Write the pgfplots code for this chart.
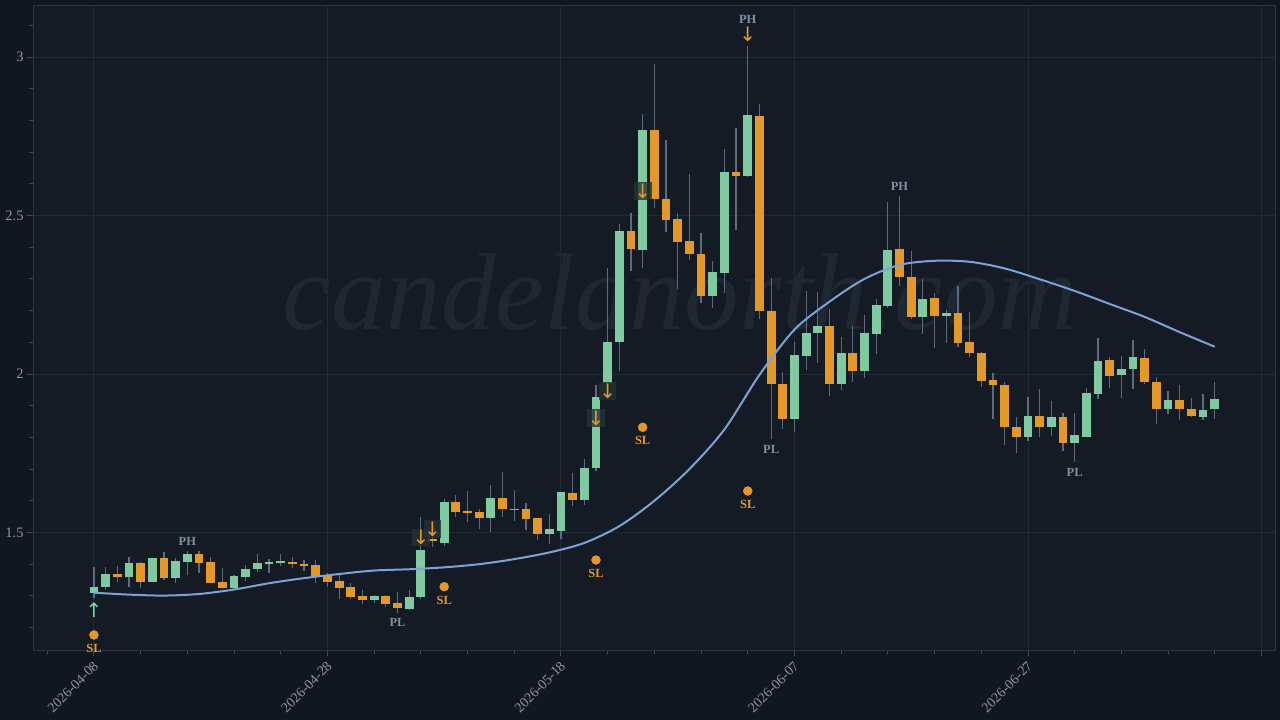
\documentclass[border=0pt]{standalone}
\usepackage{fontspec}
\setmainfont{Liberation Serif}
\newfontfamily\symfont{DejaVu Sans}
\usepackage{pgfplots}
\pgfplotsset{compat=1.18}
\usepackage{pgfplotstable}

\definecolor{bgout}{RGB}{17,23,31}
\definecolor{plotbg}{RGB}{20,27,37}
\definecolor{gridc}{RGB}{31,42,53}
\definecolor{framec}{RGB}{43,55,70}
\definecolor{tickc}{RGB}{62,75,90}
\definecolor{labelc}{RGB}{138,152,168}
\definecolor{greenc}{RGB}{128,202,162}
\definecolor{orangec}{RGB}{228,152,40}
\definecolor{wickc}{RGB}{92,108,124}
\definecolor{mac}{RGB}{125,162,212}
\definecolor{phc}{RGB}{128,143,162}
\definecolor{wm}{RGB}{30,39,50}
\definecolor{arrowbox}{RGB}{34,50,52}
\definecolor{uparrow}{RGB}{130,215,165}

\pgfplotstableread{
x O H L C
0 1.308 1.390 1.293 1.329
1 1.329 1.390 1.319 1.368
3 1.360 1.424 1.329 1.403
5 1.345 1.421 1.343 1.419
7 1.358 1.420 1.342 1.410
8 1.408 1.443 1.366 1.432
12 1.326 1.366 1.322 1.363
13 1.361 1.397 1.348 1.385
14 1.384 1.432 1.376 1.403
15 1.400 1.415 1.371 1.407
16 1.404 1.432 1.394 1.409
24 1.286 1.302 1.276 1.300
27 1.259 1.319 1.256 1.296
28 1.295 1.549 1.289 1.445
30 1.468 1.605 1.456 1.597
34 1.547 1.650 1.503 1.608
39 1.495 1.558 1.463 1.510
40 1.506 1.627 1.479 1.627
42 1.603 1.731 1.587 1.703
43 1.703 1.965 1.695 1.926
44 1.973 2.335 1.960 2.102
45 2.100 2.473 2.010 2.451
47 2.391 2.820 2.333 2.770
53 2.247 2.357 2.209 2.322
54 2.320 2.710 2.257 2.637
56 2.626 3.036 2.620 2.817
60 1.858 2.100 1.816 2.060
61 2.057 2.263 2.013 2.130
62 2.128 2.260 2.034 2.151
64 1.968 2.118 1.950 2.065
66 2.009 2.186 1.988 2.128
67 2.126 2.236 2.062 2.218
68 2.215 2.544 2.207 2.391
71 2.180 2.300 2.126 2.236
73 2.183 2.202 2.097 2.192
80 1.802 1.926 1.790 1.867
82 1.832 1.916 1.804 1.865
84 1.782 1.876 1.721 1.807
85 1.802 1.955 1.800 1.940
86 1.937 2.115 1.921 2.041
88 1.997 2.057 1.923 2.016
89 2.015 2.107 1.953 2.052
92 1.890 1.946 1.874 1.918
95 1.865 1.937 1.855 1.886
96 1.889 1.976 1.857 1.921
}\upcandles

\pgfplotstableread{
x O H L C
2 1.368 1.394 1.343 1.361
4 1.403 1.407 1.324 1.345
6 1.419 1.437 1.350 1.358
9 1.432 1.442 1.371 1.405
10 1.407 1.422 1.340 1.342
11 1.343 1.389 1.322 1.324
17 1.408 1.422 1.387 1.400
18 1.402 1.413 1.379 1.393
19 1.396 1.413 1.340 1.364
20 1.364 1.371 1.329 1.345
21 1.348 1.371 1.290 1.326
22 1.327 1.340 1.290 1.296
23 1.299 1.319 1.274 1.287
25 1.300 1.302 1.266 1.274
26 1.277 1.312 1.245 1.261
29 1.478 1.500 1.454 1.472
31 1.597 1.618 1.550 1.566
32 1.568 1.631 1.534 1.563
33 1.565 1.573 1.511 1.547
35 1.608 1.690 1.550 1.574
36 1.575 1.634 1.537 1.571
37 1.573 1.594 1.508 1.543
38 1.545 1.546 1.476 1.495
41 1.626 1.687 1.582 1.603
46 2.451 2.508 2.326 2.393
48 2.770 2.978 2.523 2.552
49 2.552 2.738 2.449 2.486
50 2.488 2.507 2.268 2.415
51 2.420 2.631 2.360 2.377
52 2.380 2.444 2.223 2.247
55 2.636 2.775 2.454 2.626
57 2.815 2.852 2.173 2.200
58 2.200 2.302 1.794 1.967
59 1.968 2.005 1.826 1.858
63 2.151 2.205 1.929 1.967
65 2.065 2.152 1.974 2.008
69 2.393 2.562 2.276 2.305
70 2.307 2.388 2.173 2.179
72 2.239 2.255 2.083 2.184
74 2.192 2.278 2.086 2.099
75 2.102 2.197 2.053 2.065
76 2.067 2.068 1.960 1.979
77 1.981 2.002 1.857 1.964
78 1.965 1.976 1.776 1.832
79 1.834 1.863 1.752 1.802
81 1.867 1.953 1.802 1.832
83 1.865 1.876 1.758 1.781
87 2.044 2.054 1.955 1.993
90 2.052 2.079 1.968 1.976
91 1.976 1.992 1.841 1.890
93 1.918 1.965 1.855 1.890
94 1.891 1.923 1.865 1.866
}\downcandles

\pgfplotstableread{
x y
0 1.310
3 1.304
6 1.301
9 1.306
12 1.320
15 1.340
18 1.356
21 1.369
24 1.380
27 1.384
30 1.390
33 1.400
36 1.416
39 1.437
42 1.467
45 1.520
48 1.600
51 1.700
54 1.825
57 1.997
60 2.140
63 2.228
66 2.300
69 2.344
72 2.357
75 2.354
78 2.333
81 2.299
84 2.262
87 2.221
90 2.180
93 2.132
96 2.086
}\matable

\begin{document}
\begin{tikzpicture}
\fill[bgout] (0bp,0bp) rectangle (1280bp,720bp);
\useasboundingbox (0bp,0bp) rectangle (1280bp,720bp);
\begin{axis}[
  at={(33bp,70bp)}, anchor=south west,
  scale only axis, width=1242bp, height=645bp,
  xmin=-5.22, xmax=101.16, ymin=1.1293, ymax=3.164,
  axis background/.style={fill=plotbg},
  axis line style={draw=framec, line width=0.9bp},
  xtick={0,20,40,60,80,100},
  xticklabels={2026-04-08,2026-04-28,2026-05-18,2026-06-07,2026-06-27,{}},
  minor xtick={-4,4,8,12,16,24,28,32,36,44,48,52,56,64,68,72,76,84,88,92,96},
  ytick={1.5,2,2.5,3},
  minor ytick={1.2,1.3,1.4,1.6,1.7,1.8,1.9,2.1,2.2,2.3,2.4,2.6,2.7,2.8,2.9,3.1},
  xtick pos=left, ytick pos=left,
  tick align=outside,
  major tick length=6bp, minor tick length=4bp,
  every tick/.style={draw=tickc, line width=0.9bp},
  grid=major,
  major grid style={draw=gridc, line width=0.9bp},
  /pgf/number format/assume math mode=true,
  x tick label style={rotate=45, anchor=north east, font=\fontsize{14}{14}\selectfont, text=labelc, inner sep=2bp, xshift=-2bp},
  y tick label style={font=\fontsize{14.5}{14.5}\selectfont, text=labelc},
  clip mode=individual,
]
\node[font=\fontsize{110}{110}\selectfont\itshape, text=wm, anchor=center] at (rel axis cs:0.521,0.555) {candelanorth.com};

% wicks
\addplot[draw=none, mark=none, error bars/.cd, y dir=both, y explicit, error mark=none,
  error bar style={line width=1.2bp, draw=wickc}]
  table[x=x, y expr={(\thisrow{H}+\thisrow{L})/2}, y error expr={(\thisrow{H}-\thisrow{L})/2}] {\upcandles};
\addplot[draw=none, mark=none, error bars/.cd, y dir=both, y explicit, error mark=none,
  error bar style={line width=1.2bp, draw=wickc}]
  table[x=x, y expr={(\thisrow{H}+\thisrow{L})/2}, y error expr={(\thisrow{H}-\thisrow{L})/2}] {\downcandles};

% bodies
\addplot[draw=none, mark=none, error bars/.cd, y dir=both, y explicit, error mark=none,
  error bar style={line width=8.8bp, draw=greenc}]
  table[x=x, y expr={(\thisrow{O}+\thisrow{C})/2}, y error expr={(\thisrow{C}-\thisrow{O})/2}] {\upcandles};
\addplot[draw=none, mark=none, error bars/.cd, y dir=both, y explicit, error mark=none,
  error bar style={line width=8.8bp, draw=orangec}]
  table[x=x, y expr={(\thisrow{O}+\thisrow{C})/2}, y error expr={(\thisrow{O}-\thisrow{C})/2}] {\downcandles};

% moving average
\addplot[mac, line width=2bp, smooth, mark=none] table[x=x, y=y] {\matable};

% SL dots
\addplot[only marks, mark=*, mark size=4.5bp, color=orangec] coordinates {
 (0,1.1767) (30,1.3290) (43,1.4132) (47,1.8319) (56,1.6309)};

% SL labels
\addplot[draw=none, mark=none, point meta=explicit symbolic, nodes near coords,
  nodes near coords align=center,
  every node near coord/.append style={font=\bfseries\fontsize{12.5}{12.5}\selectfont, text=orangec, inner sep=0pt}]
  coordinates {(0,1.1356)[SL] (30,1.2871)[SL] (43,1.3722)[SL] (47,1.7918)[SL] (56,1.5899)[SL]};

% PH / PL labels
\addplot[draw=none, mark=none, point meta=explicit symbolic, nodes near coords,
  nodes near coords align=center,
  every node near coord/.append style={font=\bfseries\fontsize{12.5}{12.5}\selectfont, text=phc, inner sep=0pt}]
  coordinates {(8,1.4732)[PH] (26,1.2177)[PL] (56,3.1199)[PH] (58,1.7634)[PL] (69,2.5931)[PH] (84,1.6909)[PL]};

% sell arrows with box
\addplot[draw=none, mark=none, nodes near coords={\symfont\fontsize{20}{20}\selectfont ↓},
  nodes near coords align=center,
  every node near coord/.append style={text=orangec, fill=arrowbox, fill opacity=0.8, text opacity=1, inner xsep=0.5bp, inner ysep=1.5bp}]
  coordinates {(28,1.484) (29,1.511) (43,1.861) (44,1.946) (47,2.577)};

% arrow at the peak
\addplot[draw=none, mark=none, nodes near coords={\symfont\fontsize{20}{20}\selectfont ↓},
  nodes near coords align=center,
  every node near coord/.append style={text=orangec, inner sep=0pt}]
  coordinates {(56,3.073)};

% buy arrow
\addplot[draw=none, mark=none, nodes near coords={\symfont\fontsize{20}{20}\selectfont ↑},
  nodes near coords align=center,
  every node near coord/.append style={text=uparrow, inner sep=0pt}]
  coordinates {(0,1.2555)};
\end{axis}
\end{tikzpicture}
\end{document}
